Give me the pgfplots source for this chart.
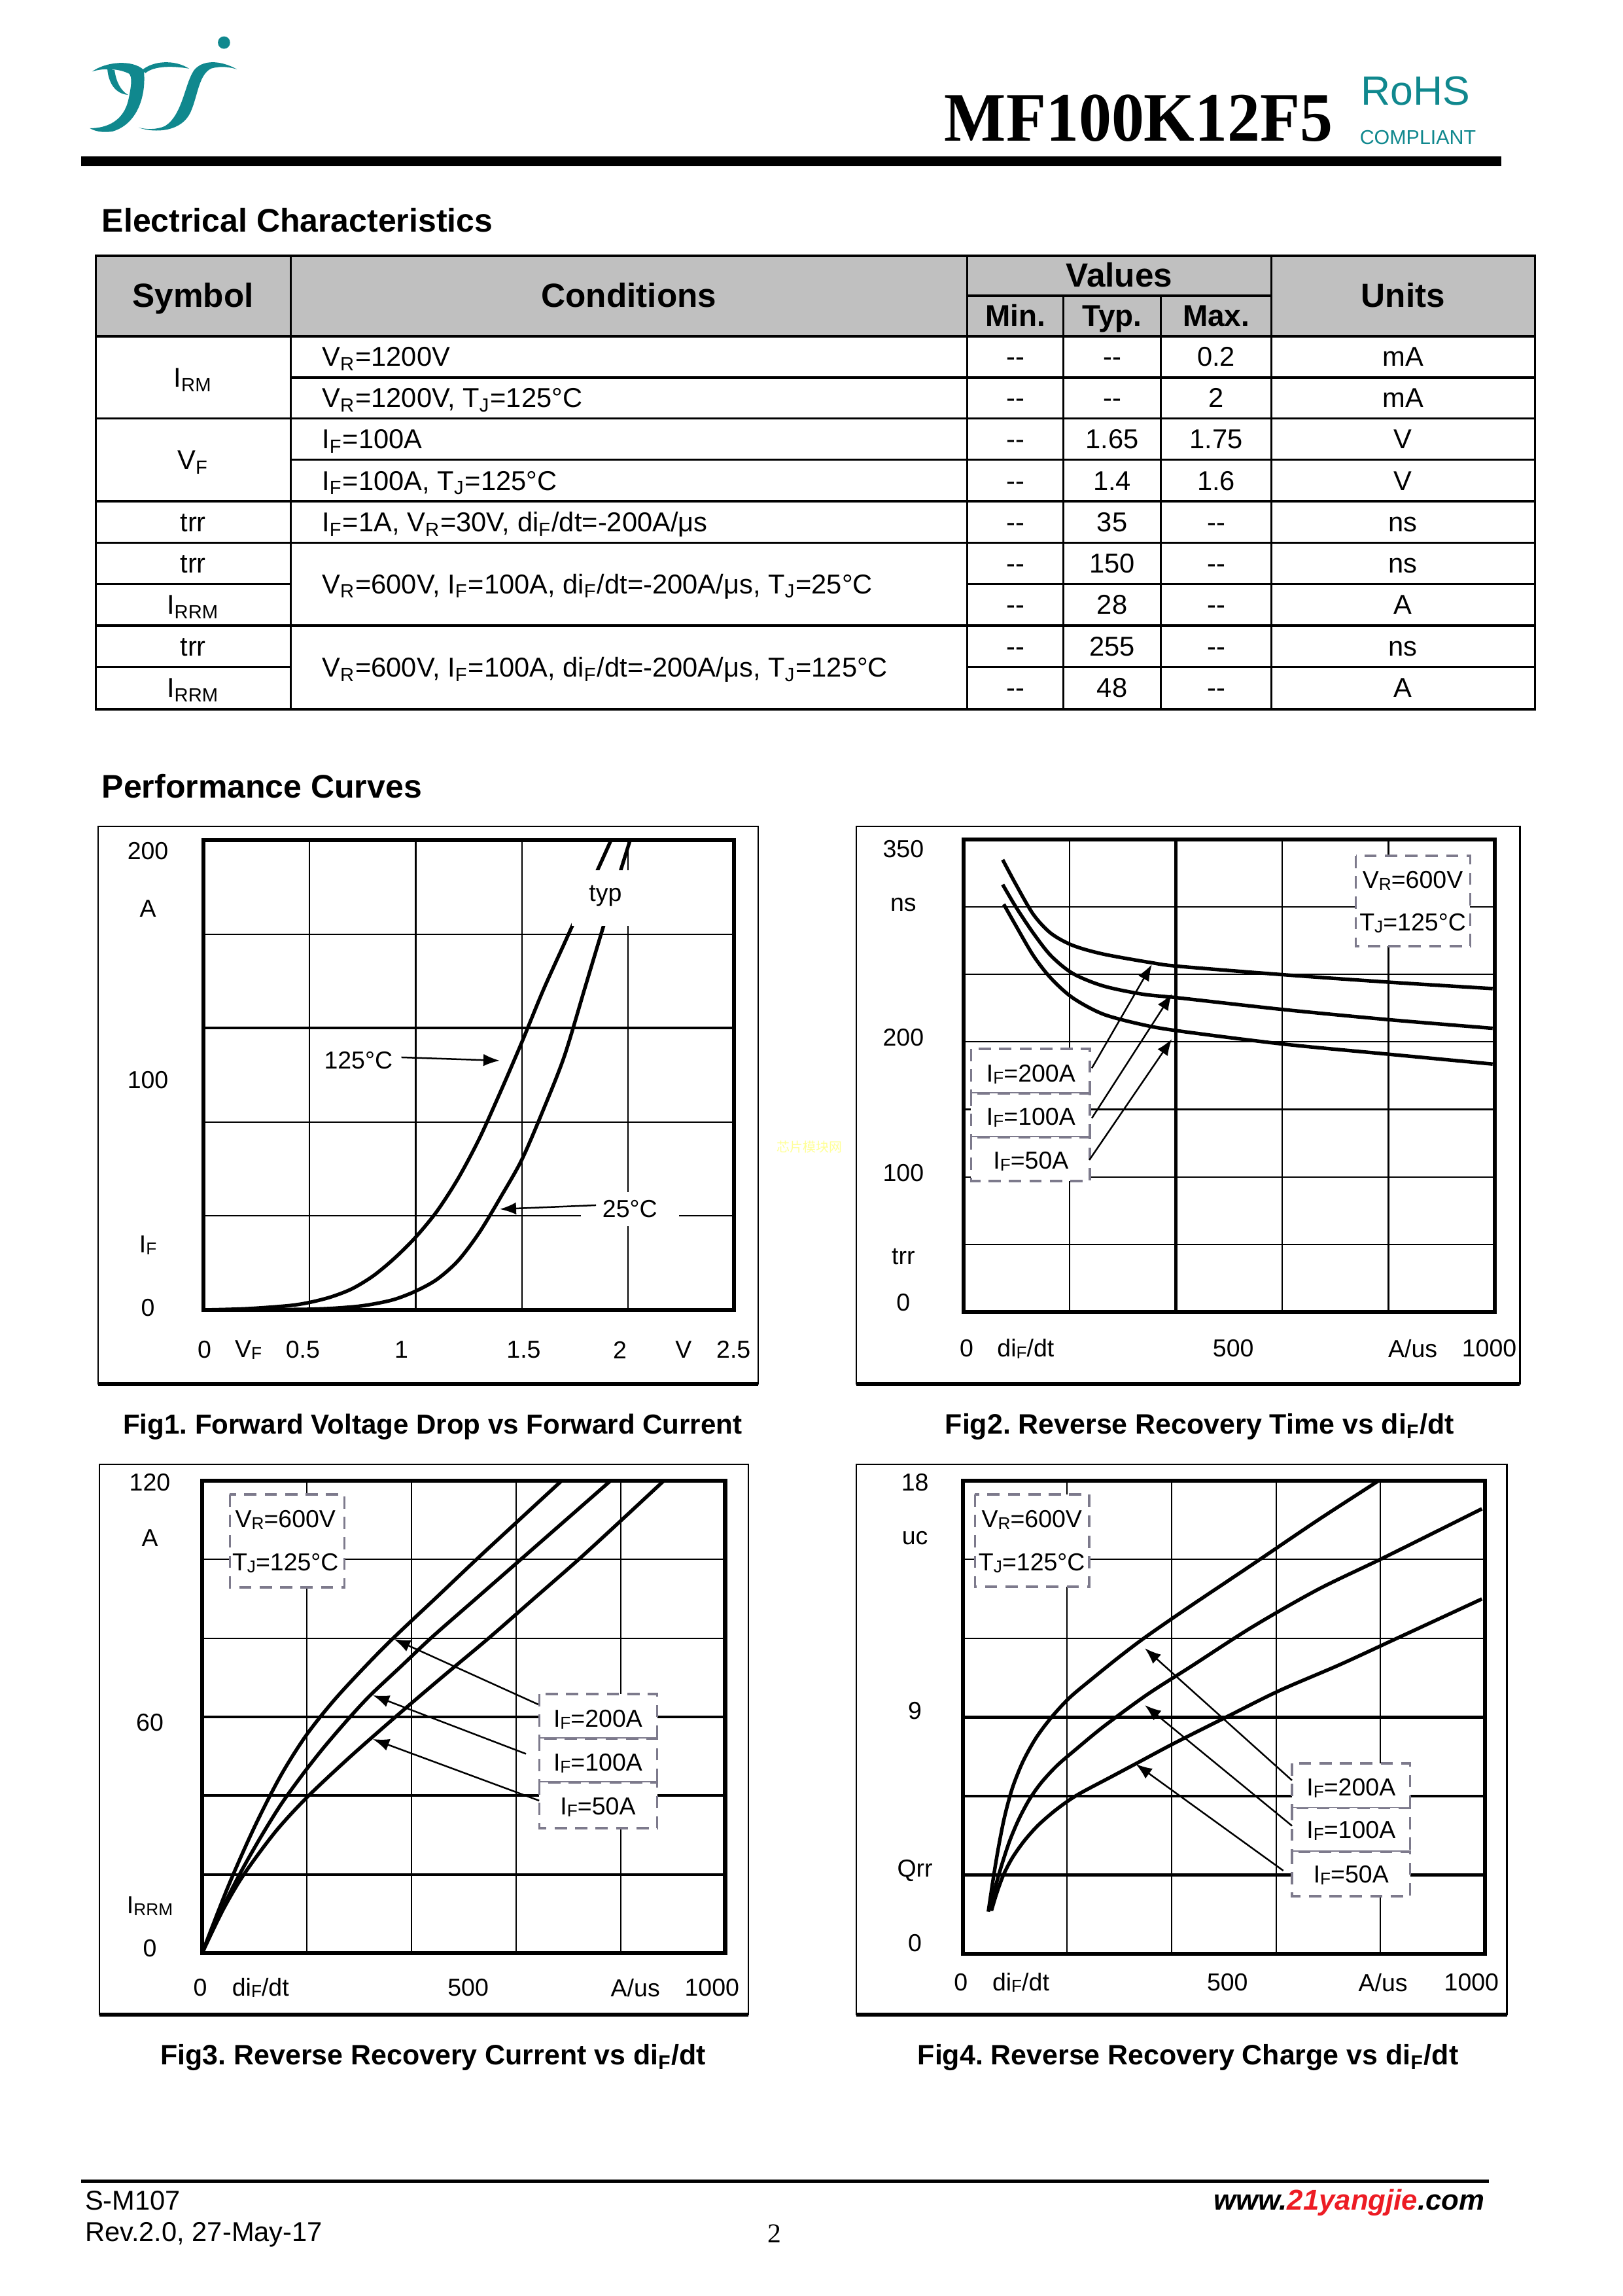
\documentclass[border=0pt]{standalone}
\usepackage{pgfplots}
\pgfplotsset{compat=1.18}
\usepackage{fontspec}
\setmainfont{Liberation Sans}
\newfontfamily\serifb{Liberation Serif}
\newfontfamily\cjk{Noto Sans CJK SC}
\usetikzlibrary{arrows.meta}
\frenchspacing

\definecolor{teal1}{RGB}{16,136,142}
\definecolor{hdrgray}{RGB}{192,192,192}
\definecolor{dashc}{RGB}{125,122,140}
\definecolor{wmark}{RGB}{255,255,150}
\definecolor{webred}{RGB}{237,28,36}

\newcommand\fs[1]{\fontsize{#1bp}{#1bp}\selectfont}
\newcommand\ps[1]{\raisebox{-0.15ex}{\fs{6.3}#1}}
\newcommand\dd{-{}-}

\pgfplotsset{
  ds/.style={scale only axis, anchor=north west,
    xticklabels={}, yticklabels={}, major tick length=0pt,
    grid=major, major grid style={line width=0.5bp, black},
    axis line style={line width=1.5bp},
    extra x tick labels={}, extra y tick labels={},
    extra x tick style={major tick length=0pt, grid=major, major grid style={line width=1bp, black}},
    extra y tick style={major tick length=0pt, grid=major, major grid style={line width=1bp, black}}},
  cv/.style={line width=1.3bp, black, smooth, tension=0.5, no marks}
}
% page pixels: 1 px = 0.24bp; small correction of the measured layout
\tikzset{px/.style={x=0.23688bp, y=-0.24bp, shift={(4.05,-7)}}}

\begin{document}
\begin{tikzpicture}
\fill[white] (0,0) rectangle (595.44bp,-842.16bp);
\begin{scope}[px]

% logo
\begin{scope}[shift={(120,50)},xscale=0.3377,yscale=0.34]
\fill[teal1] (55,195) .. controls (120,150) and (240,140) .. (292,188)
  .. controls (305,300) and (265,430) .. (150,464)
  .. controls (100,472) and (65,462) .. (45,450)
  .. controls (120,450) and (200,420) .. (222,320)
  .. controls (235,260) and (240,220) .. (225,205)
  .. controls (180,182) and (110,178) .. (55,195) -- cycle;
\fill[teal1] (125,183) .. controls (130,245) and (160,295) .. (220,300)
  .. controls (185,280) and (165,240) .. (158,188) -- cycle;
\fill[teal1] (283,190) .. controls (330,148) and (430,138) .. (500,182)
  .. controls (430,170) and (340,168) .. (300,202) -- cycle;
\fill[teal1] (720,185) .. controls (640,142) and (560,142) .. (522,190)
  .. controls (480,250) and (470,390) .. (390,440)
  .. controls (350,458) and (300,455) .. (268,447)
  .. controls (340,472) and (470,470) .. (510,370)
  .. controls (540,300) and (545,210) .. (600,182)
  .. controls (645,168) and (690,176) .. (720,185) -- cycle;
\fill[teal1] (660,65) circle (28);
\end{scope}

\node[anchor=base west,inner sep=0] at (1458,223) {\scalebox{0.94}[1]{\serifb\bfseries\fs{25.5}MF100K12F5}};
\node[teal1,inner sep=0] at (2188,146) {\fs{15}RoHS};
\node[teal1,inner sep=0] at (2192,217) {\fs{7.3}COMPLIANT};
\fill[black] (122,246) rectangle (2321,261);

\node[anchor=base west,inner sep=0] at (153,362) {\fs{12}\bfseries Electrical Characteristics};

% table
\fill[hdrgray] (144,398) rectangle (2373,521);
\begin{scope}[line width=0.75bp]
\draw (144,398) rectangle (2373,1091);
\foreach \x in {446,1494,1965} \draw (\x,398) -- (\x,1091);
\foreach \x in {1643,1794} \draw (\x,459) -- (\x,1091);
\draw (1494,459) -- (1965,459);
\draw[line width=1bp] (144,521) -- (2373,521);
\foreach \y in {646.6,773,836.6,963} \draw (144,\y) -- (2373,\y);
\foreach \y in {584,709.8} \draw (446,\y) -- (2373,\y);
\foreach \y in {899.3,1026.6} {\draw (144,\y) -- (446,\y); \draw (1494,\y) -- (2373,\y);}
\end{scope}
\begin{scope}[every node/.style={inner sep=0,anchor=base}]
\node at (295,477) {\fs{12.3}\bfseries Symbol};
\node at (970,477) {\fs{12.3}\bfseries Conditions};
\node at (1729.5,446) {\fs{12.3}\bfseries Values};
\node at (2169,477) {\fs{12.3}\bfseries Units};
\node at (1568.5,506) {\fs{11}\bfseries Min.};
\node at (1718.5,506) {\fs{11}\bfseries Typ.};
\node at (1879.5,506) {\fs{11}\bfseries Max.};
\node at (295,599) {\fs{10}I\textsubscript{RM}};
\node at (295,725) {\fs{10}V\textsubscript{F}};
\node at (295,820) {\fs{10}trr};
\node at (295,883) {\fs{10}trr};
\node at (295,946) {\fs{10}I\textsubscript{RRM}};
\node at (295,1010) {\fs{10}trr};
\node at (295,1073) {\fs{10}I\textsubscript{RRM}};
\foreach \y/\a/\b/\c/\u in {567/\dd/\dd/0.2/mA, 630/\dd/\dd/2/mA, 693/\dd/1.65/1.75/V,
  756.5/\dd/1.4/1.6/V, 820/\dd/35/\dd/ns, 883/\dd/150/\dd/ns, 946/\dd/28/\dd/A,
  1010/\dd/255/\dd/ns, 1073/\dd/48/\dd/A}{
  \node at (1568.5,\y) {\fs{10}\a};
  \node at (1718.5,\y) {\fs{10}\b};
  \node at (1879.5,\y) {\fs{10}\c};
  \node at (2169,\y) {\fs{10}\u};
}
\end{scope}
\begin{scope}[every node/.style={inner sep=0,anchor=base west}]
\node at (494,567) {\fs{10}V\textsubscript{R}=1200V};
\node at (494,630) {\fs{10}V\textsubscript{R}=1200V, T\textsubscript{J}=125°C};
\node at (494,693) {\fs{10}I\textsubscript{F}=100A};
\node at (494,756.5) {\fs{10}I\textsubscript{F}=100A, T\textsubscript{J}=125°C};
\node at (494,820) {\fs{10}I\textsubscript{F}=1A, V\textsubscript{R}=30V, di\textsubscript{F}/dt=-200A/μs};
\node at (494,914.5) {\fs{10}V\textsubscript{R}=600V, I\textsubscript{F}=100A, di\textsubscript{F}/dt=-200A/μs, T\textsubscript{J}=25°C};
\node at (494,1042) {\fs{10}V\textsubscript{R}=600V, I\textsubscript{F}=100A, di\textsubscript{F}/dt=-200A/μs, T\textsubscript{J}=125°C};
\end{scope}

\node[anchor=base west,inner sep=0] at (153,1227) {\fs{12}\bfseries Performance Curves};

% frames
\foreach \a/\b/\c/\d in {148/1270/1170/2122, 1322/1270/2350/2122, 150/2245/1155/3086, 1322/2245/2330/3086}{
  \draw[line width=0.6bp] (\a,\b) rectangle (\c,\d);
  \draw[line width=1.3bp] (\a,\d) -- (\c,\d);
}
\coordinate (p1) at (311,1291);
\coordinate (p2) at (1488,1290);
\coordinate (p3) at (309,2270);
\coordinate (p4) at (1487,2270);

% axis text
\begin{scope}[every node/.style={inner sep=0,font=\fs{9}}]
\node at (225,1307.6) {200}; \node at (225,1396) {A}; \node at (225,1657.7) {100};
\node at (225,1910) {I\ps{F}}; \node at (225,2006) {0};
\node at (312.7,2070) {0}; \node at (380.5,2070) {V\ps{F}}; \node at (465,2070) {0.5};
\node at (617.5,2070) {1}; \node at (807,2070) {1.5}; \node at (956,2070) {2};
\node at (1054.5,2070) {V}; \node at (1132,2070) {2.5};

\node at (228,2273) {120}; \node at (228,2358) {A}; \node at (228,2640) {60};
\node at (228,2920) {I\ps{RRM}}; \node at (228,2985) {0};
\node at (306,3045) {0}; \node at (399.5,3045) {di\ps{F}/dt}; \node at (721,3045) {500};
\node at (980,3045) {A/us}; \node at (1098.6,3045) {1000};
\end{scope}
\begin{scope}[shift={(15,0)},every node/.style={inner sep=0,font=\fs{9}}]
\node at (1380,1304.7) {350}; \node at (1380,1390) {ns}; \node at (1380,1592.7) {200};
\node at (1380,1800) {100}; \node at (1380,1927.7) {trr}; \node at (1380,1997.4) {0};
\node at (1478,2068) {0}; \node at (1569.5,2068) {di\ps{F}/dt}; \node at (1891,2068) {500};
\node at (2169,2068) {A/us}; \node at (2287.5,2068) {1000};

\node at (1398,2273) {18}; \node at (1398,2358) {uc}; \node at (1398,2622) {9};
\node at (1398,2866) {Qrr}; \node at (1398,2977) {0};
\node at (1469,3037) {0}; \node at (1562,3037) {di\ps{F}/dt}; \node at (1882,3037) {500};
\node at (2123,3037) {A/us}; \node at (2260,3037) {1000};
\end{scope}

% captions
\begin{scope}[every node/.style={inner sep=0,font=\fs{10.3}\bfseries}]
\node[font=\fs{10.1}\bfseries] at (666,2188) {Fig1. Forward Voltage Drop vs Forward Current};
\node at (1854,2188) {Fig2. Reverse Recovery Time vs di\textsubscript{F}/dt};
\node at (667,3152) {Fig3. Reverse Recovery Current vs di\textsubscript{F}/dt};
\node at (1836,3152) {Fig4. Reverse Recovery Charge vs di\textsubscript{F}/dt};
\end{scope}

\node[wmark,inner sep=0] at (1250,1760) {\cjk\fs{4.8}芯片模块网};

% footer
\draw[line width=1.2bp] (122,3341) -- (2302,3341);
\node[anchor=base west,inner sep=0] at (127,3385) {\fs{10}S-M107};
\node[anchor=base west,inner sep=0] at (127,3433) {\fs{10}Rev.2.0, 27-May-17};
\node[anchor=base,inner sep=0] at (1195,3435) {\serifb\fs{10}2};
\node[anchor=base east,inner sep=0] at (2296,3385) {\fs{10.5}\bfseries\itshape www.\textcolor{webred}{21yangjie}.com};
\end{scope}

% Fig1
\begin{axis}[ds, at={(p1)}, width=194.72bp, height=172.32bp,
  xmin=0, xmax=2.5, ymin=0, ymax=200,
  xtick={0.5,1,1.5,2}, ytick={40,80,160}, extra y ticks={120}]
\addplot[cv] coordinates {(0,0) (0.2,0.5) (0.4,1.8) (0.5,3.2) (0.6,5.5) (0.7,9) (0.8,14.5)
  (0.9,22) (1.0,31) (1.1,42) (1.2,56) (1.3,73) (1.4,93) (1.5,114) (1.6,136) (1.7,156)
  (1.8,176) (1.92,200) (1.95,207)};
\addplot[cv] coordinates {(0,0) (0.5,0.3) (0.7,1.3) (0.8,2.5) (0.9,4.5) (1.0,8) (1.1,13)
  (1.2,21) (1.3,33) (1.4,48) (1.5,64) (1.6,85) (1.7,108) (1.8,138) (1.9,168) (2.01,200) (2.04,208)};
\end{axis}

% Fig2
\begin{axis}[ds, at={(p2)}, width=194.96bp, height=173.28bp,
  xmin=0, xmax=1000, ymin=0, ymax=350,
  xtick={200,600,800}, extra x ticks={400}, ytick={50,100,...,300}]
\addplot[cv] coordinates {(74,335) (99,316.6) (132,294.3) (165,280.4) (206,271.5) (263,265.1)
  (354,258.7) (406,256) (602,249.8) (800,244.3) (996,239.5)};
\addplot[cv] coordinates {(74,316.6) (99,299.9) (132,280.4) (165,263.8) (206,250.7) (263,241.5)
  (337,235.4) (406,232.6) (602,224) (800,216.5) (996,210.1)};
\addplot[cv] coordinates {(76,302) (99,286) (132,263.8) (165,247.1) (206,232.6) (263,220.6)
  (337,212.8) (406,208.1) (602,198.4) (800,190.9) (996,183.6)};
\end{axis}

% Fig3
\begin{axis}[ds, at={(p3)}, width=191.87bp, height=173.28bp,
  xmin=0, xmax=1000, ymin=0, ymax=120,
  xtick={200,400,600,800}, ytick={80,100}, extra y ticks={20,40,60}]
\addplot[cv] coordinates {(0,0) (50,17) (100,32) (150,45) (200,55.5) (260,65.4) (350,78)
  (450,90.6) (527,100.3) (610,110.5) (690,120.3) (700,121.5)};
\addplot[cv] coordinates {(0,0) (35,10.3) (70,19.6) (110,29) (150,37.6) (190,45) (230,51.8)
  (275,58.8) (320,65.3) (380,72.8) (439,80.2) (525,90.2) (611,100.2) (697,110.2) (782,120.1) (792,121.3)};
\addplot[cv] coordinates {(0,0) (40,11) (80,20) (140,30.8) (200,39.5) (280,49.5) (368,59.8)
  (458,70) (548,80) (634,90) (720,100) (802,110) (883,120) (893,121.2)};
\end{axis}

% Fig4
\begin{axis}[ds, at={(p4)}, width=191.64bp, height=173.52bp,
  xmin=0, xmax=1000, ymin=0, ymax=18,
  xtick={200,400,600,800}, ytick={12,15}, extra y ticks={3,6,9}]
\addplot[cv] coordinates {(49,1.6) (58,2.8) (68,4.0) (80,5.2) (95,6.3) (115,7.3) (140,8.2)
  (170,9.0) (205,9.75) (250,10.5) (300,11.3) (350,12.05) (430,13.15) (550,14.75) (680,16.5)
  (800,18.05) (808,18.2)};
\addplot[cv] coordinates {(52,1.64) (62,2.5) (75,3.4) (90,4.3) (107,5.1) (127,5.85) (150,6.5)
  (180,7.15) (215,7.75) (270,8.65) (353,9.86) (437,10.93) (554,12.43) (680,13.86) (806,15.07) (994,16.93)};
\addplot[cv] coordinates {(55,1.64) (65,2.3) (78,3.0) (95,3.65) (118,4.3) (145,4.9) (180,5.5)
  (220,6.05) (286,6.75) (337,7.29) (404,8) (504,9) (605,10) (722,11) (831,12) (994,13.5)};
\end{axis}

% annotations
\begin{scope}[px,
  dbox/.style={draw=dashc, line width=0.8bp, dash pattern=on 4.5bp off 3bp, fill=white},
  arr/.style={line width=0.6bp, -{Latex[length=6bp,width=4.5bp]}},
  every node/.style={inner sep=0,font=\fs{9}}]
% Fig1
\fill[white] (881,1337) rectangle (971,1422);
\node at (933.5,1376) {typ};
\node at (551,1628) {125°C};
\draw[arr] (617.6,1623) -- (770,1628);
\node[fill=white,inner xsep=8,inner ysep=3] at (971.5,1855) {25°C};
\draw[arr] (919,1849) -- (770,1855);
% Fig3
\draw[dbox] (352,2291) rectangle (529.5,2433);
\node at (438,2330) {V\ps{R}=600V};
\node at (438,2396) {T\ps{J}=125°C};
\draw[dbox] (831,2596) rectangle (1014,2664);
\draw[dbox] (831,2664) rectangle (1014,2731);
\draw[dbox] (831,2731) rectangle (1014,2801);
\node at (922,2635) {I\ps{F}=200A};
\node at (922,2702) {I\ps{F}=100A};
\node at (922,2769) {I\ps{F}=50A};
\draw[arr] (829.6,2612) -- (606,2512);
\draw[arr] (810.6,2687.5) -- (573.5,2598);
\draw[arr] (831,2759) -- (573.5,2665);
\begin{scope}[shift={(15,0)}]
% Fig2
\draw[dbox] (2081,1315) rectangle (2258,1453);
\node at (2169,1353) {V\ps{R}=600V};
\node at (2169,1418) {T\ps{J}=125°C};
\draw[dbox] (1485,1610) rectangle (1669,1678);
\draw[dbox] (1485,1678) rectangle (1669,1745);
\draw[dbox] (1485,1745) rectangle (1669,1812);
\node at (1577.6,1649) {I\ps{F}=200A};
\node at (1577.6,1715) {I\ps{F}=100A};
\node at (1577.6,1781.5) {I\ps{F}=50A};
\draw[arr] (1672,1639.5) -- (1765,1481);
\draw[arr] (1672,1716) -- (1796,1526);
\draw[arr] (1668,1780) -- (1796,1595);
% Fig4
\draw[dbox] (1491,2291) rectangle (1668,2432);
\node at (1579,2330) {V\ps{R}=600V};
\node at (1579,2396) {T\ps{J}=125°C};
\draw[dbox] (1982,2702) rectangle (2165,2770.5);
\draw[dbox] (1982,2770.5) rectangle (2165,2837);
\draw[dbox] (1982,2837) rectangle (2165,2905);
\node at (2073.5,2739.5) {I\ps{F}=200A};
\node at (2073.5,2805) {I\ps{F}=100A};
\node at (2073.5,2873) {I\ps{F}=50A};
\draw[arr] (1982,2728) -- (1754,2526);
\draw[arr] (1982,2797.5) -- (1754,2613);
\draw[arr] (1968.5,2866) -- (1740,2703);
\end{scope}
\end{scope}
\pgfresetboundingbox
\useasboundingbox (0,0) rectangle (595.44bp,-842.16bp);
\end{tikzpicture}
\end{document}
